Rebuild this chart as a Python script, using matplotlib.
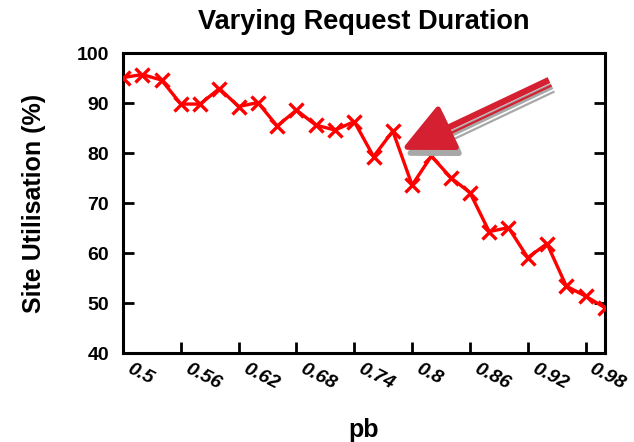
import numpy as np
import matplotlib
matplotlib.use("Agg")
import matplotlib.pyplot as plt
from matplotlib.patches import Polygon
from matplotlib.transforms import ScaledTranslation, IdentityTransform

plt.rcParams['font.family'] = ['Liberation Sans', 'DejaVu Sans']

pb = [0.50, 0.52, 0.54, 0.56, 0.58, 0.60, 0.62, 0.64, 0.66, 0.68, 0.70, 0.72, 0.74,
      0.76, 0.78, 0.80, 0.82, 0.84, 0.86, 0.88, 0.90, 0.92, 0.94, 0.96, 0.98, 1.00]
util = [95.1, 95.7, 94.6, 89.8, 89.8, 92.9, 89.3, 90.1, 85.4, 88.6, 85.6, 84.6, 86.3,
        79.3, 84.4, 73.6, 79.4, 75.1, 72.1, 64.3, 65.1, 59.1, 61.9, 53.4, 51.4, 49.1]
xticks = [0.5, 0.56, 0.62, 0.68, 0.74, 0.8, 0.86, 0.92, 0.98]
xticklabels = ["0.5", "0.56", "0.62", "0.68", "0.74", "0.8", "0.86", "0.92", "0.98"]
yticks = [40, 50, 60, 70, 80, 90, 100]

# arrow (tail -> tip) in data units
arrow_tail = (0.942, 94.6)
arrow_tip = (0.795, 81.2)

fig = plt.figure(figsize=(6.34, 4.42), dpi=100)
ax = fig.add_axes([0.194, 0.201, 0.760, 0.679])

ax.plot(pb, util, color="#ff0000", lw=2.4, marker="x", ms=10, mew=2.4, zorder=3)

ax.set_xlim(0.5, 1.0)
ax.set_ylim(40, 100)
ax.set_xticks(xticks)
ax.set_xticklabels(xticklabels, rotation=-27, ha="left", va="top",
                   rotation_mode="anchor", fontsize=14, fontweight="bold",
                   style="italic")
ax.set_yticks(yticks)
ax.set_yticklabels([str(v) for v in yticks], fontsize=14, fontweight="bold")
ax.tick_params(axis="x", direction="in", length=8, width=2, pad=5, top=False)
ax.tick_params(axis="y", direction="in", length=8, width=2, right=True, pad=10)
for sp in ax.spines.values():
    sp.set_linewidth(2.2)
# nudge the slanted x labels to the right of their ticks
shift = ScaledTranslation(9 / 100, 0, fig.dpi_scale_trans)
for tick in ax.xaxis.get_major_ticks():
    tick.label1.set_transform(tick.label1.get_transform() + shift)

ax.set_title("Varying Request Duration", fontsize=19.5, fontweight="bold", pad=17)
ax.set_ylabel("Site Utilisation (%)", fontsize=18, fontweight="bold", labelpad=22)
ax.set_xlabel("pb", fontsize=18, fontweight="bold", labelpad=18)

# arrow built in pixel space: red body, thin stripe, grey drop shadow
T = ax.transData.transform(arrow_tip)
A = ax.transData.transform(arrow_tail)
u = (A - T) / np.hypot(*(A - T))
n = np.array([u[1], -u[0]])  # points "below" the shaft
head_len, head_hw = 44, 21


def arrow_parts(off):
    o = np.array(off)
    head = np.array([T, T + head_len * u + head_hw * n, T + head_len * u - head_hw * n]) + o
    shaft = np.array([T + 25 * u, A]) + o
    thin = np.array([T + head_len * u + 6 * n, A + 6 * n]) + o
    return head, shaft, thin


ident = IdentityTransform()
for off, col, z in [((3, -6), "#a8a8a8", 4), ((0, 0), "#d42030", 5)]:
    head, shaft, thin = arrow_parts(off)
    ax.add_patch(Polygon(head, closed=True, facecolor=col, edgecolor=col, lw=4,
                         joinstyle="round", transform=ident, zorder=z, clip_on=False))
    ax.plot(shaft[:, 0], shaft[:, 1], color=col, lw=4.6, transform=ident,
            zorder=z, solid_capstyle="butt", clip_on=False)
    ax.plot(thin[:, 0], thin[:, 1], color=col, lw=1.6, transform=ident,
            zorder=z, solid_capstyle="butt", clip_on=False)

fig.text(-0.008, 0.105, "5", fontsize=12, fontweight="bold", style="italic", ha="center")

fig.savefig("out.png", dpi=100)
